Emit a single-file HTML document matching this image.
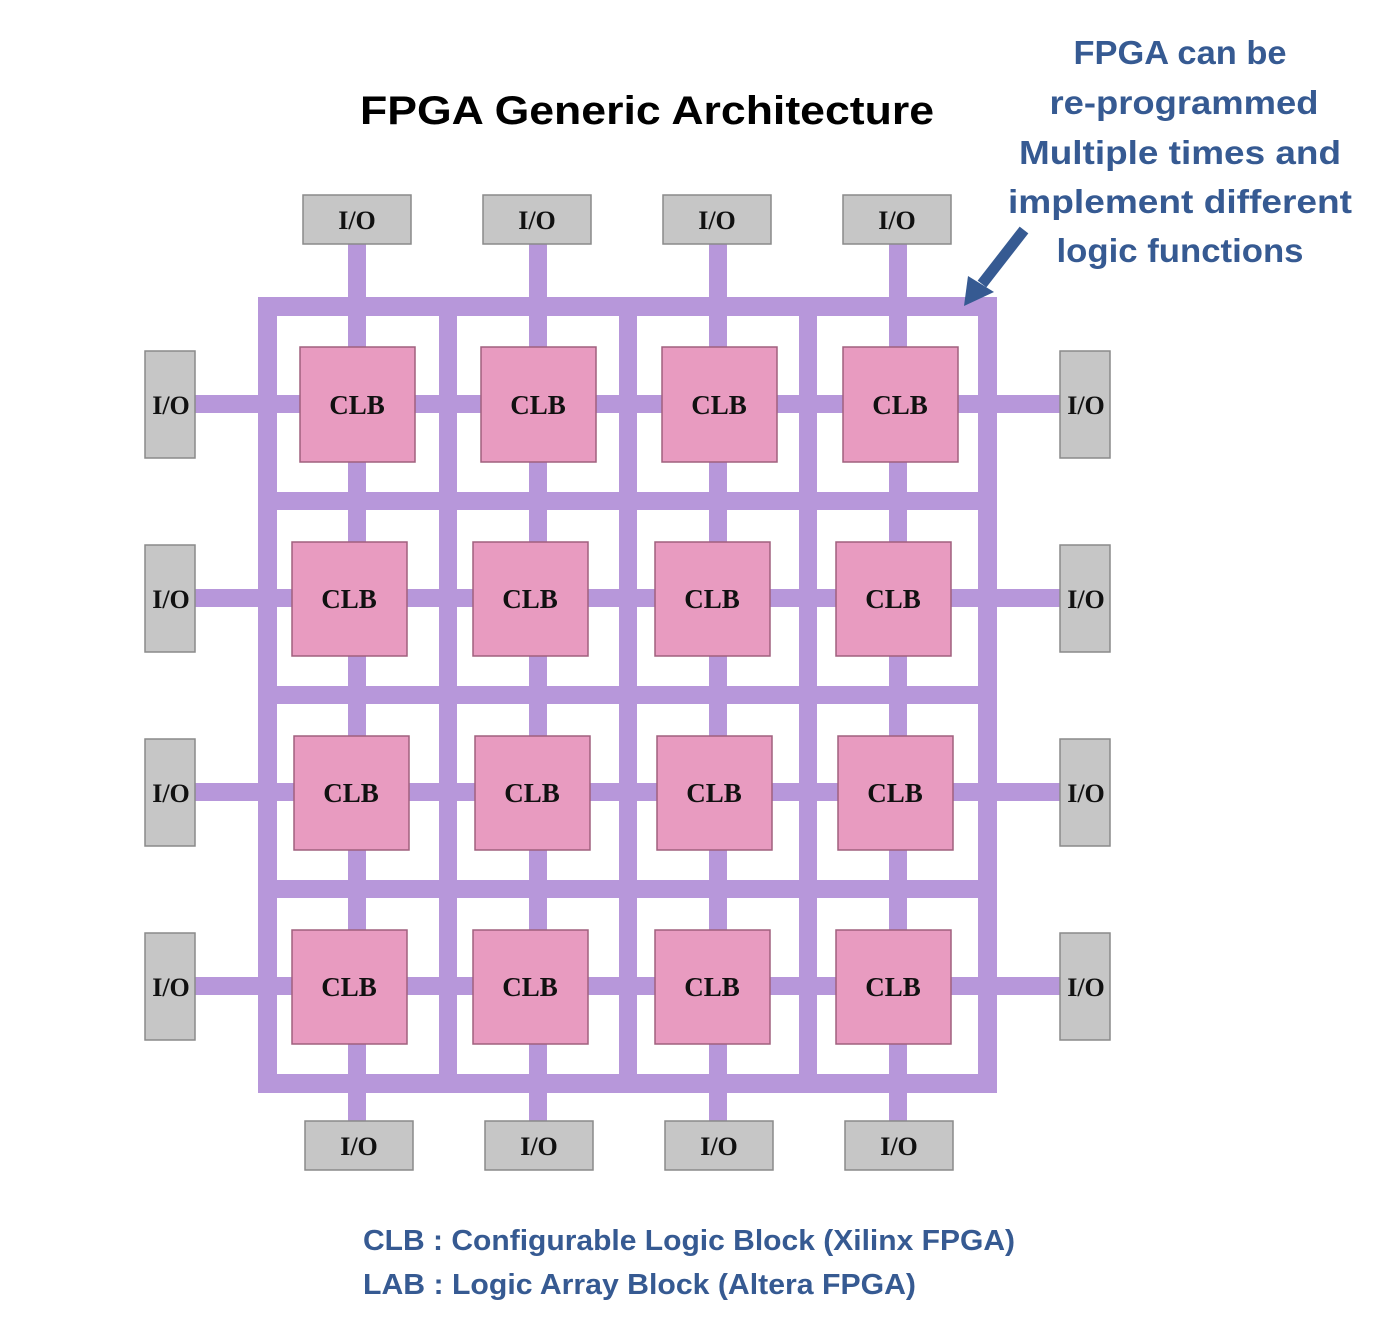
<!DOCTYPE html>
<html><head><meta charset="utf-8"><style>html,body{margin:0;padding:0;background:#fff}svg{display:block}</style></head>
<body>
<svg width="1376" height="1322" viewBox="0 0 1376 1322" xmlns="http://www.w3.org/2000/svg">
<g fill="#b797da">
  <!-- outer frame -->
  <rect x="258" y="297" width="739" height="19"/>
  <rect x="258" y="1074" width="739" height="19"/>
  <rect x="258" y="297" width="19" height="796"/>
  <rect x="978" y="297" width="19" height="796"/>
  <!-- inner grid -->
  <rect x="439" y="297" width="18" height="796"/>
  <rect x="619" y="297" width="18" height="796"/>
  <rect x="799" y="297" width="18" height="796"/>
  <rect x="258" y="492" width="739" height="18"/>
  <rect x="258" y="686" width="739" height="18"/>
  <rect x="258" y="880" width="739" height="18"/>
  <!-- vertical signal lines -->
  <rect x="348" y="244" width="18" height="877"/>
  <rect x="529" y="244" width="18" height="877"/>
  <rect x="709" y="244" width="18" height="877"/>
  <rect x="889" y="244" width="18" height="877"/>
  <!-- horizontal signal lines -->
  <rect x="195" y="395" width="865" height="18"/>
  <rect x="195" y="589" width="865" height="18"/>
  <rect x="195" y="783" width="865" height="18"/>
  <rect x="195" y="977" width="865" height="18"/>
</g>
<g fill="#e89bc0" stroke="#a0607e" stroke-width="1.5">
  <rect x="300" y="347" width="115" height="115"/><rect x="481" y="347" width="115" height="115"/><rect x="662" y="347" width="115" height="115"/><rect x="843" y="347" width="115" height="115"/>
  <rect x="292" y="542" width="115" height="114"/><rect x="473" y="542" width="115" height="114"/><rect x="655" y="542" width="115" height="114"/><rect x="836" y="542" width="115" height="114"/>
  <rect x="294" y="736" width="115" height="114"/><rect x="475" y="736" width="115" height="114"/><rect x="657" y="736" width="115" height="114"/><rect x="838" y="736" width="115" height="114"/>
  <rect x="292" y="930" width="115" height="114"/><rect x="473" y="930" width="115" height="114"/><rect x="655" y="930" width="115" height="114"/><rect x="836" y="930" width="115" height="114"/>
</g>
<g font-family="Liberation Serif, serif" font-weight="bold" font-size="27" fill="#111" text-anchor="middle">
  <text x="357" y="414">CLB</text><text x="538" y="414">CLB</text><text x="719" y="414">CLB</text><text x="900" y="414">CLB</text>
  <text x="349" y="608">CLB</text><text x="530" y="608">CLB</text><text x="712" y="608">CLB</text><text x="893" y="608">CLB</text>
  <text x="351" y="802">CLB</text><text x="532" y="802">CLB</text><text x="714" y="802">CLB</text><text x="895" y="802">CLB</text>
  <text x="349" y="996">CLB</text><text x="530" y="996">CLB</text><text x="712" y="996">CLB</text><text x="893" y="996">CLB</text>
</g>
<g fill="#c6c6c6" stroke="#8a8a8a" stroke-width="1.5">
  <rect x="303" y="195" width="108" height="49"/><rect x="483" y="195" width="108" height="49"/><rect x="663" y="195" width="108" height="49"/><rect x="843" y="195" width="108" height="49"/>
  <rect x="305" y="1121" width="108" height="49"/><rect x="485" y="1121" width="108" height="49"/><rect x="665" y="1121" width="108" height="49"/><rect x="845" y="1121" width="108" height="49"/>
  <rect x="145" y="351" width="50" height="107"/><rect x="145" y="545" width="50" height="107"/><rect x="145" y="739" width="50" height="107"/><rect x="145" y="933" width="50" height="107"/>
  <rect x="1060" y="351" width="50" height="107"/><rect x="1060" y="545" width="50" height="107"/><rect x="1060" y="739" width="50" height="107"/><rect x="1060" y="933" width="50" height="107"/>
</g>
<g font-family="Liberation Serif, serif" font-weight="bold" font-size="26" fill="#111" text-anchor="middle">
  <text x="357" y="229">I/O</text><text x="537" y="229">I/O</text><text x="717" y="229">I/O</text><text x="897" y="229">I/O</text>
  <text x="359" y="1155">I/O</text><text x="539" y="1155">I/O</text><text x="719" y="1155">I/O</text><text x="899" y="1155">I/O</text>
  <text x="171" y="414">I/O</text><text x="171" y="608">I/O</text><text x="171" y="802">I/O</text><text x="171" y="996">I/O</text>
  <text x="1086" y="414">I/O</text><text x="1086" y="608">I/O</text><text x="1086" y="802">I/O</text><text x="1086" y="996">I/O</text>
</g>
<text x="360" y="124" font-family="Liberation Sans, sans-serif" font-weight="bold" font-size="40" fill="#000" textLength="574" lengthAdjust="spacingAndGlyphs">FPGA Generic Architecture</text>
<g font-family="Liberation Sans, sans-serif" font-weight="bold" font-size="33" fill="#365a92" text-anchor="middle">
  <text x="1180" y="64" textLength="213" lengthAdjust="spacingAndGlyphs">FPGA can be</text>
  <text x="1184" y="114" textLength="269" lengthAdjust="spacingAndGlyphs">re-programmed</text>
  <text x="1180" y="164" textLength="322" lengthAdjust="spacingAndGlyphs">Multiple times and</text>
  <text x="1180" y="213" textLength="344" lengthAdjust="spacingAndGlyphs">implement different</text>
  <text x="1180" y="262" textLength="247" lengthAdjust="spacingAndGlyphs">logic functions</text>
</g>
<g font-family="Liberation Sans, sans-serif" font-weight="bold" font-size="29" fill="#365a92">
  <text x="363" y="1250" textLength="652" lengthAdjust="spacingAndGlyphs">CLB : Configurable Logic Block (Xilinx FPGA)</text>
  <text x="363" y="1294" textLength="553" lengthAdjust="spacingAndGlyphs">LAB : Logic Array Block (Altera FPGA)</text>
</g>
<line x1="1024" y1="230" x2="982" y2="284" stroke="#365a92" stroke-width="11"/>
<polygon points="964,306 968,276 994,292" fill="#365a92"/>
</svg>
</body></html>
